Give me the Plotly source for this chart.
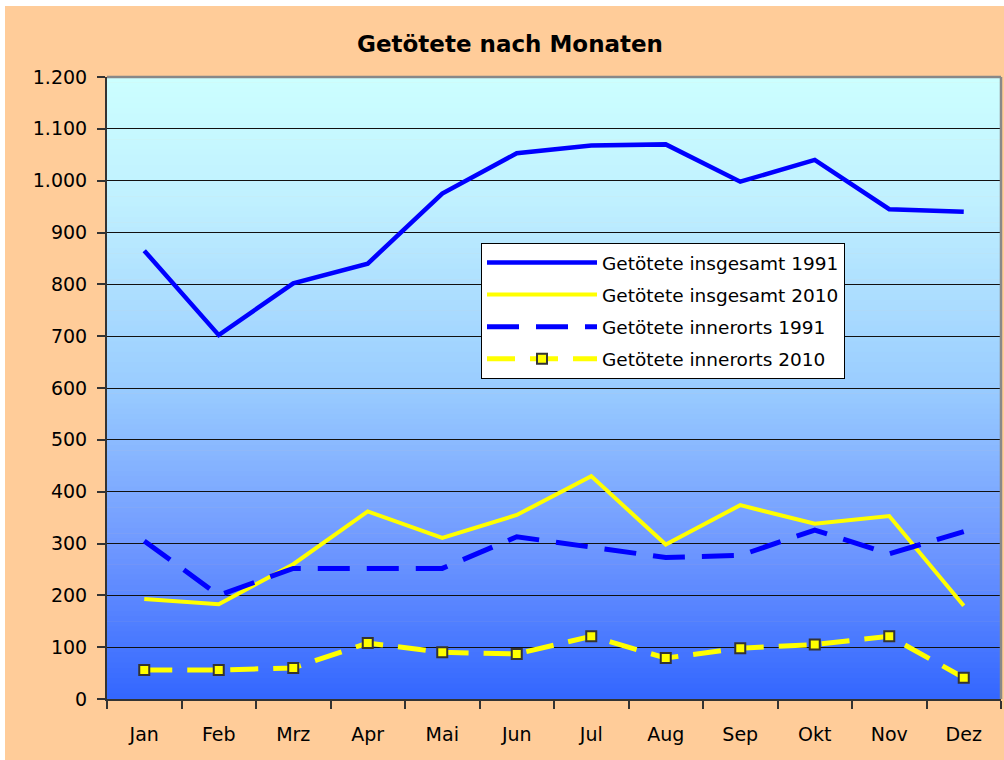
import plotly.graph_objects as go

months = ["Jan", "Feb", "Mrz", "Apr", "Mai", "Jun", "Jul", "Aug", "Sep", "Okt", "Nov", "Dez"]
insgesamt_1991 = [865, 702, 802, 840, 975, 1053, 1068, 1070, 998, 1040, 945, 940]
insgesamt_2010 = [193, 183, 260, 362, 311, 355, 430, 298, 374, 338, 353, 180]
innerorts_1991 = [305, 200, 252, 251, 252, 313, 293, 273, 277, 326, 280, 323]
innerorts_2010 = [56, 56, 60, 108, 90, 87, 121, 79, 98, 105, 121, 41]
y_ticks = [0, 100, 200, 300, 400, 500, 600, 700, 800, 900, 1000, 1100, 1200]

FONT = "DejaVu Sans"
W, H = 1004, 760
ML, MR, MT, MB = 107, 3, 77, 61
PW, PH = W - ML - MR, H - MT - MB

def px_x(p):
    return (p - ML) / PW

def px_y(p):
    return (H - MB - p) / PH

fig = go.Figure()

fig.add_trace(go.Scatter(
    x=months, y=insgesamt_1991, name="Getötete insgesamt 1991",
    mode="lines", line=dict(color="#0000FF", width=4.5),
    legendgroup="a"))
fig.add_trace(go.Scatter(
    x=months, y=insgesamt_2010, name="Getötete insgesamt 2010",
    mode="lines", line=dict(color="#FFFF00", width=4),
    legendgroup="b"))
fig.add_trace(go.Scatter(
    x=months, y=innerorts_1991, name="Getötete innerorts 1991",
    mode="lines", line=dict(color="#0000FF", width=5, dash="32px,17px"),
    legendgroup="c"))
fig.add_trace(go.Scatter(
    x=months, y=innerorts_2010, name="Getötete innerorts 2010",
    mode="lines+markers", line=dict(color="#FFFF00", width=5, dash="28px,15px"),
    marker=dict(symbol="square", size=10, color="#FFFF00",
                line=dict(color="#333333", width=2)),
    legendgroup="d"))

shapes = []
shapes.append(dict(type="rect", xref="paper", yref="paper",
                   x0=px_x(5), x1=px_x(W + 2), y0=px_y(H + 2), y1=px_y(6),
                   fillcolor="#FFCC99", line=dict(width=0), layer="below"))

stops = [(0.0, (0xCC, 0xFF, 0xFF)), (0.2, (0xC0, 0xF0, 0xFF)),
         (0.5, (0x99, 0xCC, 0xFF)), (0.75, (0x70, 0x99, 0xFF)),
         (1.0, (0x33, 0x66, 0xFF))]

def grad(t):
    for (t0, c0), (t1, c1) in zip(stops[:-1], stops[1:]):
        if t0 <= t <= t1:
            f = (t - t0) / (t1 - t0)
            return "rgb(%d,%d,%d)" % tuple(round(a + (b - a) * f) for a, b in zip(c0, c1))
    return "rgb(51,102,255)"

N = 120
for i in range(N):
    t = (i + 0.5) / N
    shapes.append(dict(type="rect", xref="paper", yref="paper",
                       x0=0, x1=1, y0=1 - (i + 1) / N - 0.001, y1=1 - i / N,
                       fillcolor=grad(t), line=dict(width=0), layer="below"))

shapes.append(dict(type="line", xref="paper", yref="paper", x0=0, x1=1, y0=1, y1=1,
                   line=dict(color="#888888", width=2.5), layer="above"))
shapes.append(dict(type="line", xref="paper", yref="paper", x0=1, x1=1, y0=0, y1=1,
                   line=dict(color="#888888", width=2.5), layer="above"))

fig.update_layout(
    width=W, height=H,
    margin=dict(l=ML, r=MR, t=MT, b=MB, pad=0),
    paper_bgcolor="white",
    plot_bgcolor="rgba(0,0,0,0)",
    separators=",.",
    shapes=shapes,
    font=dict(family=FONT, size=18, color="#000000"),
    title=dict(text="<b>Getötete nach Monaten</b>", x=0.508, xanchor="center",
               y=1 - 44 / H, yanchor="middle",
               font=dict(family=FONT, size=23, color="#000000")),
    showlegend=True,
    legend=dict(x=px_x(481), y=px_y(243), xanchor="left", yanchor="top",
                bgcolor="white", bordercolor="#000000", borderwidth=1,
                font=dict(family=FONT, size=18.5, color="#000000"),
                tracegroupgap=5, itemwidth=110, traceorder="grouped"),
)

fig.update_xaxes(
    type="category", categoryorder="array", categoryarray=months,
    range=[-0.5, 11.5], tickson="boundaries", ticks="outside", ticklen=8,
    tickcolor="#333333", tickwidth=1.5,
    showline=True, linecolor="#333333", linewidth=2,
    showgrid=False, tickfont=dict(family=FONT, size=19, color="#000000"),
    ticklabelstandoff=17, fixedrange=True)

fig.update_yaxes(
    range=[0, 1200], tickvals=y_ticks, tickformat=",d",
    ticks="outside", ticklen=8, tickcolor="#333333", tickwidth=1.5,
    showline=True, linecolor="#333333", linewidth=2,
    showgrid=True, gridcolor="#111111", gridwidth=1, zeroline=False,
    tickfont=dict(family=FONT, size=19, color="#000000"),
    ticklabelstandoff=6, fixedrange=True)

fig.write_html("out.html", config={"displayModeBar": False},
               post_script="document.body.style.margin='0px';")
